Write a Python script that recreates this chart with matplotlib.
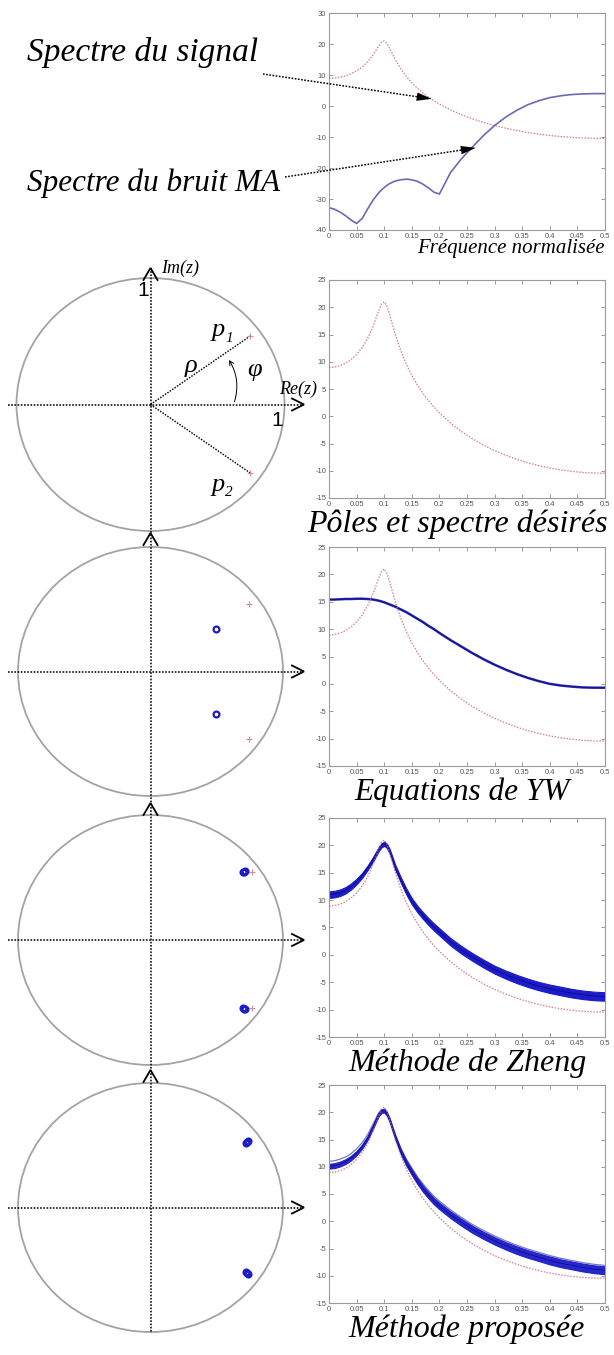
import numpy as np
import matplotlib
matplotlib.use("Agg")
import matplotlib.pyplot as plt
from matplotlib.patches import Circle, FancyArrowPatch

# ---------------------------------------------------------------- data
# normalised frequency grid shared by all spectra
freq = [0.00, 0.01, 0.02, 0.03, 0.04, 0.05, 0.06, 0.07, 0.08, 0.09,
        0.095, 0.10, 0.105,
        0.11, 0.12, 0.13, 0.14, 0.15, 0.16, 0.17, 0.18, 0.19, 0.20,
        0.22, 0.24, 0.26, 0.28, 0.30, 0.32, 0.34, 0.36, 0.38, 0.40,
        0.42, 0.44, 0.46, 0.48, 0.50]

# desired AR(2) spectrum (dB)
desired_db = [8.93, 9.01, 9.28, 9.72, 10.39, 11.33, 12.58, 14.27, 16.53, 19.31,
              20.55, 21.0, 20.2,
              18.56, 15.03, 12.01, 9.54, 7.50, 5.75, 4.24, 2.90, 1.71, 0.64,
              -1.23, -2.80, -4.15, -5.30, -6.30, -7.16, -7.89, -8.53, -9.06, -9.50,
              -9.85, -10.12, -10.31, -10.42, -10.46]

# MA noise spectrum (dB)
ma_noise_db = [-32.8, -33.3, -34.2, -35.4, -36.8, -37.9, -36.3, -33.2, -30.3, -28.0,
               -27.1, -26.3, -25.6,
               -25.0, -24.2, -23.8, -23.6, -23.8, -24.3, -25.2, -26.4, -27.8, -28.4,
               -21.5, -17.0, -13.2, -9.5, -6.3, -3.6, -1.4, 0.4, 1.7, 2.7,
               3.3, 3.7, 3.9, 4.0, 4.0]

# Yule-Walker estimates (dB)
yw_db = [15.4, 15.4, 15.45, 15.5, 15.5, 15.55, 15.55, 15.5, 15.4, 15.2,
         15.05, 14.9, 14.7,
         14.5, 14.1, 13.6, 13.1, 12.5, 11.9, 11.3, 10.6, 10.0, 9.3,
         8.0, 6.8, 5.6, 4.5, 3.5, 2.6, 1.8, 1.1, 0.5, 0.0,
         -0.3, -0.5, -0.65, -0.7, -0.7]

# Zheng method: ensemble centre and half-spread (dB)
zheng_db = [11.0, 11.1, 11.35, 11.8, 12.5, 13.4, 14.5, 15.9, 17.5, 19.3,
            20.0, 20.3, 19.9,
            18.9, 16.0, 13.7, 11.6, 9.8, 8.4, 7.2, 6.1, 5.1, 4.2,
            2.4, 0.9, -0.4, -1.6, -2.7, -3.6, -4.4, -5.1, -5.7, -6.2,
            -6.6, -7.0, -7.3, -7.5, -7.6]
zheng_spread = [0.6, 0.6, 0.6, 0.58, 0.55, 0.5, 0.45, 0.42, 0.4, 0.38,
                0.38, 0.38, 0.4,
                0.42, 0.45, 0.5, 0.55, 0.58, 0.6, 0.62, 0.64, 0.65, 0.66,
                0.68, 0.7, 0.7, 0.72, 0.72, 0.74, 0.75, 0.76, 0.76, 0.77,
                0.78, 0.78, 0.78, 0.78, 0.78]

# proposed method: ensemble centre, half-spread and highest run (dB)
proposed_db = [10.1, 10.2, 10.5, 10.95, 11.6, 12.5, 13.7, 15.3, 17.4, 19.6,
               20.2, 20.3, 19.7,
               18.5, 15.4, 12.8, 10.7, 9.0, 7.4, 6.0, 4.8, 3.7, 2.8,
               1.2, -0.2, -1.5, -2.6, -3.6, -4.5, -5.3, -6.0, -6.6, -7.2,
               -7.7, -8.1, -8.5, -8.8, -9.0]
proposed_spread = [0.45, 0.45, 0.45, 0.44, 0.42, 0.4, 0.38, 0.36, 0.35, 0.35,
                   0.35, 0.35, 0.35,
                   0.36, 0.4, 0.45, 0.5, 0.52, 0.55, 0.57, 0.58, 0.6, 0.6,
                   0.62, 0.64, 0.65, 0.66, 0.67, 0.68, 0.7, 0.7, 0.7, 0.72,
                   0.72, 0.72, 0.72, 0.72, 0.72]
proposed_upper_db = [11.0, 11.1, 11.4, 11.8, 12.4, 13.3, 14.4, 15.9, 17.9, 19.9,
                     20.4, 20.5, 20.0,
                     18.9, 15.9, 13.4, 11.4, 9.8, 8.2, 6.9, 5.7, 4.6, 3.7,
                     2.1, 0.7, -0.6, -1.7, -2.7, -3.6, -4.4, -5.1, -5.7, -6.3,
                     -6.8, -7.2, -7.6, -7.9, -8.1]

# poles in the upper half plane (Re, Im); the conjugates are mirrored
desired_pole = (0.744, 0.541)
yw_pole = (0.497, 0.341)
zheng_re = [0.700, 0.706, 0.711]
zheng_im = [0.545, 0.548, 0.551]
prop_re = [0.721, 0.728, 0.735]
prop_im = [0.521, 0.526, 0.531]

x_ticks = [0, 0.05, 0.1, 0.15, 0.2, 0.25, 0.3, 0.35, 0.4, 0.45, 0.5]
x_ticklabels = ['0', '0.05', '0.1', '0.15', '0.2', '0.25', '0.3', '0.35', '0.4', '0.45', '0.5']
top_yticks = [-40, -30, -20, -10, 0, 10, 20, 30]
yticks = [-15, -10, -5, 0, 5, 10, 15, 20, 25]

# ---------------------------------------------------------------- style
W, H = 614, 1355
RED = '#cc6677'
BLUE = '#1c1cc8'
MA_BLUE = '#6a6ab4'
SERIF = 'Liberation Serif'
SANS = 'Liberation Sans'
DOT = (0, (1.1, 1.0))

fig = plt.figure(figsize=(W / 100, H / 100), dpi=100)
fig.patch.set_facecolor('white')


def box(l, t, r, b):
    return [l / W, 1 - b / H, (r - l) / W, (b - t) / H]


def spectrum_axes(top, bottom, ylim, ticks):
    ax = fig.add_axes(box(329, top, 605, bottom))
    ax.set_xlim(0, 0.5)
    ax.set_ylim(*ylim)
    ax.set_xticks(x_ticks)
    ax.set_xticklabels(x_ticklabels)
    ax.set_yticks(ticks)
    ax.set_yticklabels([str(t) for t in ticks])
    ax.tick_params(direction='in', length=3, width=0.6, colors='#8a8a8a',
                   labelcolor='#555555', labelsize=5.5, top=True, right=True, pad=2)
    for lab in ax.get_xticklabels() + ax.get_yticklabels():
        lab.set_fontfamily(SANS)
    for sp in ax.spines.values():
        sp.set_color('#9a9a9a')
        sp.set_linewidth(0.8)
    return ax


def desired_curve(ax):
    ax.plot(freq, desired_db, color=RED, ls=(0, (1.2, 1.2)), lw=0.9, alpha=0.85, zorder=3)


f = np.array(freq)

# --- panel 1: signal and MA noise spectra
ax1 = spectrum_axes(13, 230, (-40, 30), top_yticks)
desired_curve(ax1)
ax1.plot(freq, ma_noise_db, color=MA_BLUE, lw=1.2, zorder=2)

# --- panel 2: desired spectrum
ax2 = spectrum_axes(280, 498, (-15, 25), yticks)
desired_curve(ax2)

# --- panel 3: Yule-Walker
ax3 = spectrum_axes(547, 766, (-15, 25), yticks)
ax3.plot(freq, yw_db, color='#2a2ab8', lw=1.8, zorder=2)
ax3.plot(freq, yw_db, color='#10108a', lw=0.7, zorder=2)
desired_curve(ax3)

# --- panel 4: Zheng
ax4 = spectrum_axes(818, 1037, (-15, 25), yticks)
zc, zs = np.array(zheng_db), np.array(zheng_spread)
ax4.fill_between(f, zc - zs, zc + zs, color=BLUE, lw=0.8, ec=BLUE, zorder=2)
ax4.plot(freq, zheng_db, color='#0c0c90', lw=0.7, zorder=2)
desired_curve(ax4)

# --- panel 5: proposed method
ax5 = spectrum_axes(1085, 1303, (-15, 25), yticks)
pc, ps = np.array(proposed_db), np.array(proposed_spread)
ax5.plot(freq, proposed_upper_db, color='#7a7acc', lw=0.9, zorder=2)
ax5.fill_between(f, pc - ps, pc + ps, color=BLUE, lw=0.8, ec=BLUE, alpha=0.95, zorder=2)
ax5.plot(freq, proposed_db, color='#0c0c90', lw=0.6, zorder=2)
desired_curve(ax5)

# ---------------------------------------------------------------- unit circles
circles = [(150.5, 404.5, 134, 126.5),
           (150.5, 671.5, 132.5, 124.5),
           (150.5, 940.0, 132.5, 125.0),
           (150.5, 1207.5, 132.5, 124.5)]
caxes = []
for cx, cy, rx, ry in circles:
    ca = fig.add_axes(box(cx - rx, cy - ry, cx + rx, cy + ry))
    ca.set_xlim(-1, 1)
    ca.set_ylim(-1, 1)
    ca.axis('off')
    ca.patch.set_alpha(0)
    ca.add_patch(Circle((0, 0), 1, fill=False, ec='#a3a3a3', lw=1.3, clip_on=False))
    caxes.append(ca)

plus_kw = dict(ls='none', marker='+', ms=5, mew=0.8, color='#d88c9a', zorder=4)
ring_kw = dict(ls='none', marker='o', ms=4.2, mew=1.6, mfc='none', mec=BLUE, zorder=5)

# circle 1: desired poles with rho / phi construction
c1 = caxes[0]
for s in (1, -1):
    c1.plot([0, desired_pole[0]], [0, s * desired_pole[1]], color='k', ls=DOT, lw=1.0)
    c1.plot([desired_pole[0]], [s * desired_pole[1]], **plus_kw)

# circle 2: Yule-Walker poles
c2 = caxes[1]
for s in (1, -1):
    c2.plot([desired_pole[0]], [s * desired_pole[1]], **plus_kw)
    c2.plot([yw_pole[0]], [s * yw_pole[1]], **ring_kw)

# circle 3: Zheng poles
c3 = caxes[2]
for s in (1, -1):
    c3.plot([desired_pole[0] + 0.02], [s * desired_pole[1]], **plus_kw)
    c3.plot(zheng_re, [s * v for v in zheng_im], **ring_kw)

# circle 4: proposed-method poles
c4 = caxes[3]
for s in (1, -1):
    c4.plot([desired_pole[0]], [s * desired_pole[1]], **plus_kw)
    c4.plot(prop_re, [s * v for v in prop_im], **ring_kw)

# ---------------------------------------------------------------- overlay (pixel units)
ov = fig.add_axes([0, 0, 1, 1], zorder=20)
ov.set_xlim(0, W)
ov.set_ylim(H, 0)
ov.axis('off')
ov.patch.set_alpha(0)

# imaginary axis through all circles, real axes and open arrow heads
ov.plot([150.5, 150.5], [268, 1332], color='k', ls=DOT, lw=1.1)
for (cx, cy, rx, ry), tip in zip(circles, [268, 533, 803, 1070]):
    ov.plot([8, 303], [cy, cy], color='k', ls=DOT, lw=1.1)
    ov.plot([cx - 7, cx, cx + 7], [tip + 12, tip, tip + 12], color='k', lw=1.3,
            solid_joinstyle='miter')
    ov.plot([292, 304, 292], [cy - 6, cy, cy + 6], color='k', lw=1.3,
            solid_joinstyle='miter')

it = dict(family=SERIF, style='italic', color='k')
ov.text(161, 268, 'Im(z)', fontsize=13, ha='left', va='center', **it)
ov.text(279, 389, 'Re(z)', fontsize=13, ha='left', va='center', **it)
ov.text(143, 291, '1', fontsize=15, family=SANS, ha='center', va='center')
ov.text(277, 421, '1', fontsize=15, family=SANS, ha='center', va='center')
ov.text(212, 330, 'p', fontsize=19, ha='left', va='center', **it)
ov.text(225, 338, '1', fontsize=11, ha='left', va='center', **it)
ov.text(212, 485, 'p', fontsize=19, ha='left', va='center', **it)
ov.text(225, 493, '2', fontsize=11, ha='left', va='center', **it)
ov.text(191, 366, 'ρ', fontsize=19, ha='center', va='center', **it)
ov.text(255, 370, 'φ', fontsize=19, ha='center', va='center', **it)
c1.add_patch(FancyArrowPatch((0.62, 0.0), (0.575, 0.37), connectionstyle='arc3,rad=0.25',
                             arrowstyle='->,head_length=3,head_width=1.6', color='k', lw=0.7,
                             mutation_scale=1, clip_on=False))

# panel captions
ov.text(605, 248, 'Fréquence normalisée', fontsize=15, ha='right', va='center', **it)
ov.text(457, 524, 'Pôles et spectre désirés', fontsize=23, ha='center', va='center', **it)
ov.text(462, 792, 'Equations de YW', fontsize=22.5, ha='center', va='center', **it)
ov.text(467, 1063, 'Méthode de Zheng', fontsize=23, ha='center', va='center', **it)
ov.text(467, 1329, 'Méthode proposée', fontsize=23, ha='center', va='center', **it)
ov.text(27, 52, 'Spectre du signal', fontsize=24, ha='left', va='center', **it)
ov.text(27, 183, 'Spectre du bruit MA', fontsize=22.5, ha='left', va='center', **it)


def pointer(start, ax, target):
    disp = ax.transData.transform(target)
    tx, ty = ov.transData.inverted().transform(disp)
    sx, sy = start
    d = np.array([tx - sx, ty - sy])
    u = d / np.hypot(*d)
    n = np.array([-u[1], u[0]])
    base = np.array([tx, ty]) - 15 * u
    ov.plot([sx, base[0]], [sy, base[1]], color='k', ls=DOT, lw=1.1)
    tri = np.array([[tx, ty], base + 4.2 * n, base - 4.2 * n])
    ov.fill(tri[:, 0], tri[:, 1], color='k', lw=0)


pointer((263, 74), ax1, (0.186, 2.3))
pointer((285, 177), ax1, (0.266, -13.5))

fig.savefig('out.png', dpi=100, facecolor='white')
